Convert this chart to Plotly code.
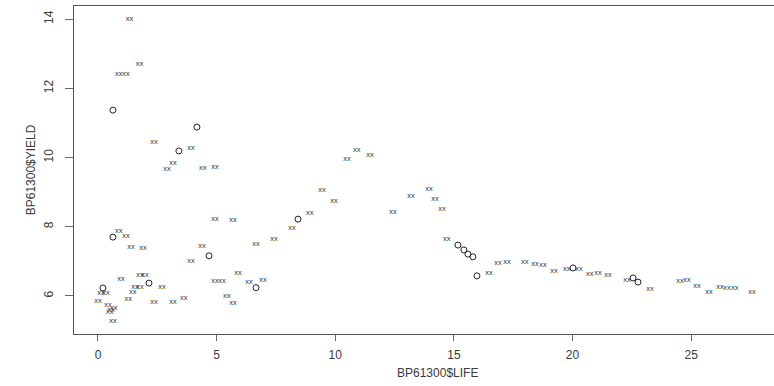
import plotly.graph_objects as go

# "xx" marker points (LIFE, YIELD)
cross_life = [1.33, 1.75, 0.88, 1.18, 2.36, 3.92, 3.16, 2.91, 4.42, 4.93, 4.93, 5.69,
              0.88, 1.18, 1.39, 1.90, 4.38, 6.66, 3.92, 5.90, 4.93, 5.23, 6.36, 6.95,
              0.97, 1.77, 1.98, 1.56, 1.77, 1.47, 2.70, 0.13, 0.34, 1.28, 2.36, 3.16,
              3.62, 5.43, 5.69, 0.00, 0.42, 0.55, 0.67, 0.50, 0.63,
              10.49, 10.91, 11.46, 9.44, 9.95, 8.93, 8.18, 7.42,
              12.43, 13.19, 13.95, 14.20, 14.50, 14.70, 16.48, 16.86,
              17.24, 17.99, 18.42, 18.75, 19.22, 19.76, 20.27, 20.73, 21.07, 21.49,
              22.29, 23.26, 24.53, 24.82, 25.24, 25.75, 26.21, 26.51, 26.84, 27.56]
cross_yield = [14.00, 12.70, 12.42, 12.42, 10.45, 10.28, 9.84, 9.67, 9.70, 9.73, 8.23, 8.20,
               7.88, 7.73, 7.42, 7.39, 7.45, 7.50, 7.01, 6.66, 6.43, 6.43, 6.40, 6.46,
               6.49, 6.60, 6.60, 6.26, 6.26, 6.12, 6.26, 6.09, 6.09, 5.91, 5.83, 5.83,
               5.94, 6.00, 5.80, 5.86, 5.74, 5.60, 5.64, 5.54, 5.28,
               9.96, 10.22, 10.08, 9.06, 8.75, 8.40, 7.97, 7.65,
               8.43, 8.89, 9.09, 8.80, 8.51, 7.65, 6.66, 6.95,
               6.98, 6.98, 6.92, 6.90, 6.72, 6.78, 6.78, 6.64, 6.66, 6.61,
               6.46, 6.20, 6.43, 6.46, 6.29, 6.12, 6.26, 6.23, 6.23, 6.12]

# open circle points (LIFE, YIELD)
circ_life = [0.63, 4.17, 3.41, 0.63, 4.68, 2.15, 0.21, 6.66, 8.43,
             15.17, 15.42, 15.59, 15.80, 15.97, 20.02, 22.55, 22.76]
circ_yield = [11.37, 10.88, 10.19, 7.70, 7.16, 6.37, 6.23, 6.24, 8.22,
              7.47, 7.33, 7.21, 7.13, 6.58, 6.81, 6.52, 6.40]

x_ticks = [0, 5, 10, 15, 20, 25]
y_ticks = [6, 8, 10, 12, 14]

ink = "#3a3a3a"
font = "Liberation Sans, Arial, sans-serif"

fig = go.Figure()
fig.add_trace(go.Scatter(
    x=cross_life, y=cross_yield, mode="text", text=["xx"] * len(cross_life),
    textposition="middle center",
    textfont=dict(family=font, size=7.5, color="#333333"),
    hoverinfo="x+y", showlegend=False))
fig.add_trace(go.Scatter(
    x=circ_life, y=circ_yield, mode="markers",
    marker=dict(symbol="circle-open", size=6, color="#222222", line=dict(width=1)),
    showlegend=False))

fig.update_layout(
    width=774, height=386,
    margin=dict(l=74, r=0, t=6, b=52),
    paper_bgcolor="white", plot_bgcolor="white",
    font=dict(family=font, size=12, color=ink),
    xaxis=dict(range=[-1.01, 28.49], tickvals=x_ticks, ticks="outside", ticklen=6,
               tickcolor="#666666", showline=True, linecolor="#555555", linewidth=1,
               mirror=True, showgrid=False, zeroline=False, ticklabelstandoff=4,
               automargin=False, tickfont=dict(size=12, color=ink)),
    yaxis=dict(range=[4.9, 14.38], tickvals=y_ticks, ticks="outside", ticklen=8,
               tickcolor="#666666", showline=True, linecolor="#555555", linewidth=1,
               showgrid=False, zeroline=False, tickangle=-90, ticklabelstandoff=7,
               automargin=False, tickfont=dict(size=12, color=ink)),
    annotations=[
        dict(text="BP61300$LIFE", xref="paper", yref="paper", x=0.519, y=-0.119,
             xanchor="center", yanchor="middle",
             showarrow=False, font=dict(size=12, color=ink)),
        dict(text="BP61300$YIELD", xref="paper", yref="paper", x=-0.061, y=0.5,
             xanchor="center", yanchor="middle",
             textangle=-90, showarrow=False, font=dict(size=12, color=ink)),
    ],
)

fig.write_html("out.html", config={"displayModeBar": False},
               post_script="document.body.style.margin='0';document.body.style.overflow='hidden';")
